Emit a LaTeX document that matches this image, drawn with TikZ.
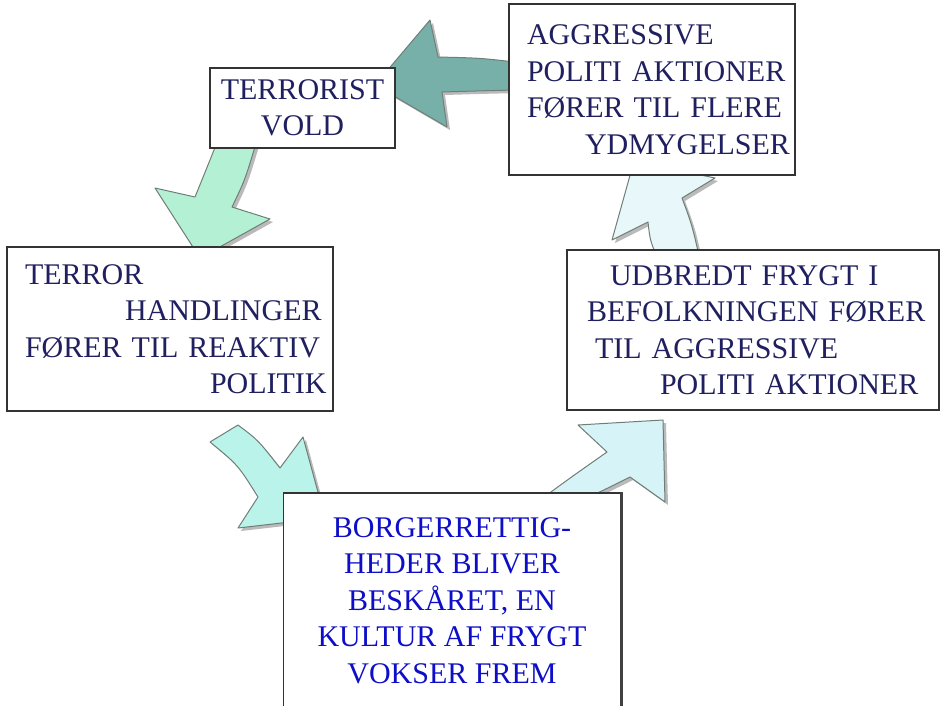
\documentclass[tikz,border=0pt]{standalone}
\usepackage{fontspec}
\setmainfont{Liberation Serif}
\usepackage{xcolor}
\usetikzlibrary{shadows}

\definecolor{navy}{RGB}{32,32,96}
\definecolor{txtblue}{RGB}{14,14,200}
\definecolor{tealarr}{RGB}{118,176,168}
\definecolor{mintarr}{RGB}{180,240,212}
\definecolor{aquaarr}{RGB}{186,243,234}
\definecolor{skyarr}{RGB}{214,243,248}
\definecolor{palearr}{RGB}{232,247,250}
\definecolor{arredge}{RGB}{112,126,120}

\tikzset{
  box/.style={draw=black!80, line width=1.5pt, fill=white, inner ysep=0pt,
    font=\fontsize{30}{36.5}\selectfont, text=navy},
  blockarr/.style={draw=arredge, line width=1pt, line join=round,
    drop shadow={shadow xshift=3pt, shadow yshift=-3pt, fill=black!45, opacity=.6}}
}

\begin{document}
\begin{tikzpicture}[x=1pt,y=-1pt]
    \useasboundingbox (0,0) rectangle (944,705);

    \path[blockarr, fill=tealarr] (515,62) .. controls (480,58) .. (438,57) -- (430,20) -- (375,85)
        -- (447,127) -- (442,92) .. controls (475,91) .. (515,90) -- cycle;
    \path[blockarr, fill=mintarr] (218,140) .. controls (208,165) .. (195,197) -- (155,188) -- (200,258)
        -- (270,219) -- (232,207) .. controls (245,180) .. (257,140) -- cycle;
    \path[blockarr, fill=aquaarr] (238,425) .. controls (258,440) .. (280,468) -- (303,437) -- (325,518)
        -- (238,528) -- (258,497) .. controls (238,465) .. (210,442) -- cycle;
    \path[blockarr, fill=skyarr] (540,500) .. controls (570,478) .. (607,452) -- (578,425) -- (663,420)
        -- (665,502) -- (630,477) .. controls (600,492) .. (570,505) -- cycle;
    \path[blockarr, fill=palearr] (658,260) .. controls (650,240) .. (648,222) -- (612,240) -- (634,161)
        -- (715,178) -- (682,198) .. controls (692,225) .. (700,260) -- cycle;

    \node[box, minimum width=185pt, minimum height=80pt, inner xsep=0pt, align=center] (a) at (302.5,108)
        {TERRORIST\\VOLD};
    \node[box, minimum height=171pt, inner xsep=18pt, text width=250pt, align=left] (b) at (652,89.5)
        {\mbox{AGGRESSIVE}\\\mbox{POLITI AKTIONER}\\\mbox{FØRER TIL FLERE}\\\mbox{\hspace*{58pt}YDMYGELSER}};
    \node[box, minimum height=164pt, inner xsep=18pt, text width=290pt, align=left] (c) at (170,329)
        {\mbox{TERROR}\\\mbox{\hspace*{100pt}HANDLINGER}\\\mbox{FØRER TIL REAKTIV}\\\mbox{\hspace*{185pt}POLITIK}};
    \node[box, minimum height=160pt, inner xsep=20pt, text width=332pt, align=left] (d) at (753,330)
        {\mbox{\hspace*{23pt}UDBREDT FRYGT I}\\\mbox{BEFOLKNINGEN FØRER}\\\mbox{\hspace*{8pt}TIL AGGRESSIVE}\\\mbox{\hspace*{73pt}POLITI AKTIONER}};
    \node[box, anchor=north, minimum width=337pt, minimum height=216pt, inner xsep=0pt, align=center,
        text=txtblue] (e) at (452,492)
        {BORGERRETTIG-\\HEDER BLIVER\\BESKÅRET, EN\\KULTUR AF FRYGT\\VOKSER FREM};
    \draw[line width=3pt, black!75] (e.north east) -- (e.south east);

\end{tikzpicture}
\end{document}
